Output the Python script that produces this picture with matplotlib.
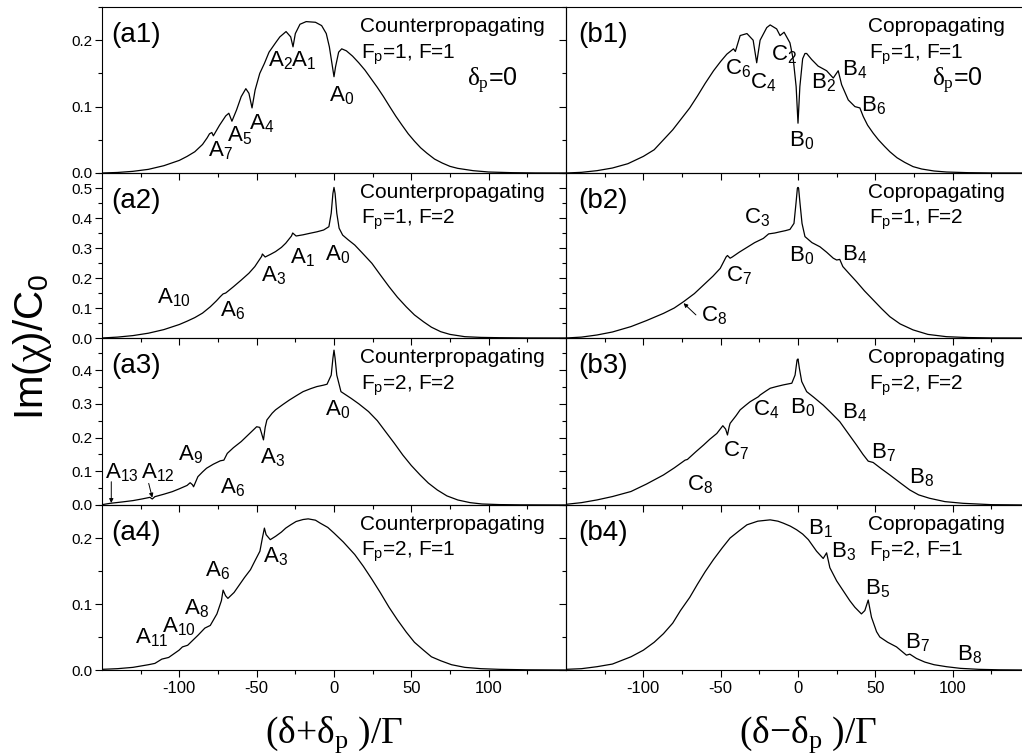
import matplotlib
matplotlib.use('Agg')
import matplotlib.pyplot as plt
from matplotlib.ticker import MultipleLocator, FixedLocator, FormatStrFormatter

plt.rcParams['font.family'] = ['Liberation Sans', 'DejaVu Sans']
plt.rcParams['mathtext.fontset'] = 'custom'
plt.rcParams['mathtext.rm'] = 'Liberation Serif'
plt.rcParams['mathtext.it'] = 'Liberation Serif:italic'
plt.rcParams['mathtext.bf'] = 'Liberation Serif:bold'
plt.rcParams['mathtext.sf'] = 'Liberation Sans'
plt.rcParams['axes.unicode_minus'] = False

# ---------------- data ----------------
a1_x = [-150, -140, -130, -120, -110, -100, -95, -90, -85, -82, -80.5, -79, -78, -74, -70, -68, -66, -63,
        -60, -57, -55, -53, -51, -48, -45, -42, -39, -37.5, -35, -31, -28, -26.5, -25, -22, -18, -12, -8,
        -5, -3, -1, 0, 1, 3, 5, 8, 12, 16, 20, 24, 28, 32, 36, 40, 44, 48, 52, 56, 60, 65, 70, 75, 80, 90,
        100, 115, 130, 150]
a1_y = [0.0, 0.0008, 0.0025, 0.0055, 0.011, 0.019, 0.025, 0.032, 0.043, 0.053, 0.059, 0.061, 0.056, 0.072,
        0.086, 0.09, 0.078, 0.095, 0.115, 0.127, 0.12, 0.098, 0.125, 0.15, 0.165, 0.182, 0.192, 0.197,
        0.205, 0.213, 0.205, 0.19, 0.21, 0.224, 0.228, 0.227, 0.222, 0.21, 0.19, 0.16, 0.145, 0.16, 0.182,
        0.187, 0.184, 0.176, 0.166, 0.155, 0.142, 0.129, 0.115, 0.1, 0.0854, 0.072, 0.059, 0.048, 0.038,
        0.03, 0.021, 0.015, 0.01, 0.007, 0.0035, 0.0015, 0.0005, 0.0001, 0.0]

b1_x = [-150, -140, -130, -120, -110, -100, -93, -87, -81, -76, -70, -65, -60, -54.6, -50, -46, -41.7,
        -40.5, -37.4, -33, -29, -26.7, -24.5, -20.2, -18, -13.8, -11.6, -9, -5.2, -3, -1.2, 0, 1.2, 3,
        4.5, 5.6, 8.8, 13, 18.5, 22.8, 26, 28.2, 32.5, 36.8, 40, 42.2, 45, 48.6, 52, 56, 59.4, 64, 69,
        74.4, 80, 88, 96, 110, 125, 150]
b1_y = [0.0, 0.001, 0.0035, 0.0075, 0.014, 0.025, 0.035, 0.05, 0.065, 0.08, 0.098, 0.116, 0.135, 0.154,
        0.168, 0.179, 0.187, 0.183, 0.207, 0.21, 0.2, 0.166, 0.2, 0.219, 0.223, 0.217, 0.207, 0.212, 0.196,
        0.17, 0.13, 0.075, 0.13, 0.172, 0.18, 0.18, 0.171, 0.161, 0.154, 0.143, 0.154, 0.133, 0.11, 0.1,
        0.098, 0.085, 0.072, 0.06, 0.05, 0.04, 0.032, 0.023, 0.016, 0.0096, 0.006, 0.003, 0.0015, 0.0005,
        0.0001, 0.0]

a2_x = [-150, -140, -130, -120, -110, -100, -95, -90, -85, -80, -76, -73.5, -71.7, -70, -65, -60, -55,
        -51.2, -46.8, -46.3, -44.5, -41, -37.8, -34, -31.2, -27.5, -26.7, -24.5, -20, -15.6, -11, -6.7,
        -3.3, -1.8, -0.7, 0, 0.7, 1.8, 3.3, 5.6, 9, 13.4, 18, 24.5, 30, 35.6, 41, 46.7, 52, 57.9, 63, 69,
        75, 84.6, 95, 107, 125, 150]
a2_y = [0.0, 0.003, 0.008, 0.016, 0.028, 0.045, 0.056, 0.068, 0.083, 0.104, 0.124, 0.138, 0.147, 0.15,
        0.171, 0.193, 0.216, 0.238, 0.272, 0.28, 0.27, 0.279, 0.288, 0.302, 0.316, 0.34, 0.35, 0.34, 0.344,
        0.349, 0.354, 0.36, 0.371, 0.416, 0.482, 0.502, 0.482, 0.416, 0.366, 0.343, 0.328, 0.31, 0.285,
        0.249, 0.21, 0.171, 0.136, 0.104, 0.077, 0.054, 0.036, 0.021, 0.012, 0.0044, 0.002, 0.001, 0.0002,
        0.0]

b2_x = [-150, -140, -130, -120, -108, -98, -87, -80, -74, -67, -61, -55, -50.3, -46.5, -45.6, -43.9,
        -42.5, -38, -33, -28, -22.4, -19, -15, -11.6, -8, -5.2, -2.6, -1.3, -0.4, 0, 0.4, 1.3, 2.6, 4.5,
        9, 14.2, 18.5, 22.8, 25, 27, 29, 33, 37.8, 43, 48.6, 54, 59.4, 66, 74.4, 84, 96, 110, 125, 150]
b2_y = [0.0, 0.003, 0.01, 0.02, 0.038, 0.058, 0.082, 0.1, 0.121, 0.148, 0.177, 0.206, 0.232, 0.27,
        0.275, 0.266, 0.27, 0.286, 0.302, 0.318, 0.332, 0.347, 0.35, 0.354, 0.358, 0.362, 0.382, 0.449,
        0.499, 0.502, 0.499, 0.449, 0.382, 0.338, 0.318, 0.304, 0.286, 0.266, 0.26, 0.262, 0.238, 0.215,
        0.188, 0.157, 0.127, 0.098, 0.071, 0.047, 0.027, 0.012, 0.0044, 0.0015, 0.0003, 0.0]

a3_x = [-150, -144.7, -137, -130, -124, -119, -117.5, -115.8, -110, -104.6, -100, -95, -93, -91.5, -90.8,
        -88, -85, -82.4, -78, -73.5, -71.2, -69, -65, -60, -55, -50, -48, -47, -45.6, -44.5, -43.4, -40,
        -37.8, -33, -28.9, -24, -20, -15, -11.1, -7, -4.5, -1.8, -0.7, 0, 0.7, 1.8, 4.5, 11.1, 16, 22.3,
        28, 33.4, 39, 44.5, 50, 55.7, 61, 66.8, 73, 80.1, 88, 95.7, 107, 120, 150]
a3_y = [0.001, 0.005, 0.009, 0.013, 0.018, 0.0227, 0.0178, 0.0247, 0.032, 0.0395, 0.048, 0.058, 0.066,
        0.06, 0.054, 0.084, 0.098, 0.109, 0.121, 0.131, 0.133, 0.153, 0.17, 0.188, 0.21, 0.232, 0.23, 0.215,
        0.193, 0.23, 0.252, 0.272, 0.282, 0.298, 0.311, 0.325, 0.336, 0.345, 0.351, 0.355, 0.358, 0.385,
        0.435, 0.459, 0.435, 0.385, 0.336, 0.316, 0.3, 0.277, 0.25, 0.217, 0.183, 0.148, 0.117, 0.089,
        0.065, 0.0445, 0.027, 0.0148, 0.007, 0.003, 0.0012, 0.0005, 0.0]

b3_x = [-150, -140, -130, -120, -108, -98, -87, -80, -73, -71.5, -70.8, -66, -61, -57, -52.5, -48.6, -46.8,
        -45.6, -44.5, -43.9, -40, -37.4, -34, -31, -25.6, -24.5, -21, -18, -14, -9.5, -4, -1.9, -0.6, 0,
        0.9, 2.4, 5.6, 10, 16.3, 21, 27, 32, 37.8, 42, 45.4, 48.6, 54, 59.4, 66, 72.3, 78, 85, 95, 106.7,
        125, 150]
b3_y = [0.002, 0.007, 0.015, 0.025, 0.04, 0.062, 0.089, 0.11, 0.133, 0.135, 0.138, 0.158, 0.178, 0.195,
        0.212, 0.235, 0.225, 0.2075, 0.232, 0.242, 0.265, 0.282, 0.295, 0.306, 0.321, 0.326, 0.337, 0.346,
        0.351, 0.356, 0.361, 0.385, 0.43, 0.433, 0.405, 0.366, 0.336, 0.32, 0.296, 0.275, 0.247, 0.215,
        0.178, 0.15, 0.13, 0.126, 0.107, 0.089, 0.066, 0.0445, 0.03, 0.02, 0.01, 0.005, 0.001, 0.0]

a4_x = [-150, -140, -130, -120, -115.8, -111.3, -106.9, -100.2, -98, -94.6, -88, -83.5, -80, -75.7, -72.8,
        -71.7, -70.1, -68.6, -64.6, -57.9, -54, -51.2, -47.9, -46.3, -45, -43.9, -41.2, -37.8, -34, -31.2,
        -28, -24.5, -20, -16.7, -12, -8.9, -4, 0, 6, 13.4, 19, 24.5, 30, 35.6, 41, 46.7, 52, 57.9, 63, 69,
        76, 84.6, 95, 107, 125, 150]
a4_y = [0.001, 0.002, 0.004, 0.008, 0.01, 0.0165, 0.019, 0.03, 0.035, 0.0375, 0.0525, 0.0635, 0.0675,
        0.085, 0.105, 0.121, 0.1125, 0.1085, 0.1175, 0.14, 0.152, 0.165, 0.18, 0.2, 0.215, 0.205, 0.1975,
        0.2025, 0.209, 0.215, 0.22, 0.225, 0.228, 0.229, 0.227, 0.2225, 0.216, 0.2075, 0.194, 0.175, 0.157,
        0.1375, 0.117, 0.095, 0.076, 0.0575, 0.042, 0.03, 0.02, 0.014, 0.008, 0.004, 0.002, 0.001, 0.0003,
        0.0]

b4_x = [-150, -140, -130, -120, -108, -100, -93, -87, -81, -76, -70, -65, -60, -54.6, -49, -43.9, -38, -33,
        -26, -18, -13, -9.5, -5, -0.9, 3, 6.7, 12, 16.3, 18.5, 20.6, 25, 33.5, 36.8, 41, 43.2, 45.4, 47.5,
        50.8, 52.9, 58, 63.7, 70.1, 72.3, 76.6, 82, 88, 96, 105, 117, 130, 150]
b4_y = [0.001, 0.002, 0.005, 0.009, 0.02, 0.03, 0.042, 0.055, 0.071, 0.09, 0.11, 0.13, 0.149, 0.1675,
        0.185, 0.2, 0.211, 0.22, 0.2255, 0.2275, 0.2255, 0.2225, 0.218, 0.2125, 0.206, 0.1975, 0.18, 0.169,
        0.1775, 0.155, 0.135, 0.105, 0.095, 0.085, 0.09, 0.106, 0.08, 0.058, 0.05, 0.042, 0.035, 0.0225,
        0.024, 0.0175, 0.012, 0.008, 0.005, 0.0025, 0.001, 0.0003, 0.0]

curves = {'a1': (a1_x, a1_y), 'b1': (b1_x, b1_y), 'a2': (a2_x, a2_y), 'b2': (b2_x, b2_y),
          'a3': (a3_x, a3_y), 'b3': (b3_x, b3_y), 'a4': (a4_x, a4_y), 'b4': (b4_x, b4_y)}

row_ylim = [0.25, 0.55, 0.495, 0.25]
row_F = ['F=1', 'F=2', 'F=2', 'F=1']
row_Fp = ['1', '1', '2', '2']
x_major = [-100, -50, 0, 50, 100]
x_minor = [-125, -75, -25, 25, 75, 125]

# resonance labels: (letter, index, x, y)
peak_labels = {
    'a1': [('A', '7', -81.3, 0.0247), ('A', '5', -69.3, 0.0475), ('A', '4', -55.2, 0.065),
           ('A', '2', -42.7, 0.161), ('A', '1', -27.8, 0.161), ('A', '0', -3.3, 0.108)],
    'b1': [('C', '6', -47.1, 0.1485), ('C', '4', -31.0, 0.127), ('C', '2', -17.6, 0.169),
           ('B', '0', -5.6, 0.04), ('B', '2', 8.2, 0.127), ('B', '4', 28.2, 0.147), ('B', '6', 40.6, 0.093)],
    'a2': [('A', '10', -114.6, 0.1156), ('A', '6', -73.5, 0.071), ('A', '3', -47.4, 0.188),
           ('A', '1', -28.3, 0.249), ('A', '0', -5.6, 0.26)],
    'b2': [('C', '3', -34.6, 0.382), ('C', '7', -46.5, 0.188), ('C', '8', -62.8, 0.054),
           ('B', '0', -5.6, 0.254), ('B', '4', 28.2, 0.26)],
    'a3': [('A', '13', -148.0, 0.079), ('A', '12', -124.7, 0.079), ('A', '9', -100.6, 0.133),
           ('A', '6', -73.5, 0.0346), ('A', '3', -47.9, 0.1235), ('A', '0', -5.6, 0.267)],
    'b3': [('C', '8', -71.8, 0.0445), ('C', '7', -48.2, 0.143), ('C', '4', -28.8, 0.267),
           ('B', '0', -5.2, 0.272), ('B', '4', 28.2, 0.257), ('B', '7', 46.9, 0.138), ('B', '8', 71.8, 0.064)],
    'a4': [('A', '11', -128.5, 0.04), ('A', '10', -111.0, 0.0575), ('A', '8', -96.8, 0.085),
           ('A', '6', -83.3, 0.1425), ('A', '3', -46.1, 0.1625)],
    'b4': [('B', '1', 6.7, 0.205), ('B', '3', 21.5, 0.17), ('B', '5', 43.2, 0.115),
           ('B', '7', 69.0, 0.0325), ('B', '8', 103.0, 0.015)],
}
# arrows: (x_from, y_from, x_to, y_to)
arrows = {
    'a3': [(-144.0, 0.069, -144.0, 0.006), (-119.8, 0.064, -117.5, 0.022)],
    'b2': [(-66.0, 0.077, -74.0, 0.116)],
}

# ---------------- figure layout ----------------
W, H = 1022, 755
fig = plt.figure(figsize=(W / 100, H / 100), dpi=100)
rows_px = [(7, 173), (173, 338), (338, 505), (505, 670)]
cols_px = [(102, 566), (566, 1030)]

for r, (top, bot) in enumerate(rows_px):
    for c, (x0, x1) in enumerate(cols_px):
        key = ('a' if c == 0 else 'b') + str(r + 1)
        ax = fig.add_axes([x0 / W, 1 - bot / H, (x1 - x0) / W, (bot - top) / H])
        ax.patch.set_facecolor('none')
        xs, ys = curves[key]
        ax.plot(xs, ys, color='black', lw=0.9)
        ax.set_xlim(-150, 150)
        ax.set_ylim(0, row_ylim[r])
        ax.xaxis.set_major_locator(FixedLocator(x_major))
        ax.xaxis.set_minor_locator(FixedLocator(x_minor))
        ax.yaxis.set_major_locator(MultipleLocator(0.1))
        ax.yaxis.set_minor_locator(MultipleLocator(0.05))
        ax.yaxis.set_major_formatter(FormatStrFormatter('%.1f'))
        ax.tick_params(which='major', direction='out', length=5, width=0.8, labelsize=11, pad=2)
        ax.tick_params(which='minor', direction='out', length=3, width=0.8)
        ax.tick_params(axis='x', which='major', pad=3, labelsize=12)
        ax.tick_params(labelbottom=(r == 3), labelleft=(c == 0))
        for s in ax.spines.values():
            s.set_linewidth(0.8)

        ax.text(0.02 if c == 0 else 0.026, 0.83, '(%s)' % key, transform=ax.transAxes,
                fontsize=20, va='center', ha='left')
        tx = 0.556 if c == 0 else 0.65
        ax.text(tx, 0.85, 'Counterpropagating' if c == 0 else 'Copropagating',
                transform=ax.transAxes, fontsize=15, va='baseline', ha='left')
        ax.text(tx + 0.002, 0.69, r'$\mathsf{F_p}$=%s, %s' % (row_Fp[r], row_F[r]),
                transform=ax.transAxes, fontsize=15, va='baseline', ha='left')
        if r == 0:
            ax.text(0.786 if c == 0 else 0.789, 0.52, r'$\mathrm{\delta_p}$=0',
                    transform=ax.transAxes, fontsize=18, va='baseline', ha='left')
        for letter, idx, lx, ly in peak_labels[key]:
            ax.text(lx, ly, r'$\mathsf{%s_{%s}}$' % (letter, idx), fontsize=16,
                    va='baseline', ha='left')
        for (xa, ya, xb, yb) in arrows.get(key, []):
            ax.annotate('', xy=(xb, yb), xytext=(xa, ya),
                        arrowprops=dict(arrowstyle='-|>', lw=0.7, color='black',
                                        mutation_scale=6, shrinkA=0, shrinkB=0))

fig.text(32 / W, 1 - 347 / H, r'Im($\mathrm{\chi}$)/C$_\mathsf{0}$', rotation=90,
         fontsize=29, ha='center', va='center')
serif = ['Liberation Serif', 'DejaVu Serif']
fig.text(334 / W, 1 - 743 / H, '(δ+δ$_\\mathrm{p}$ )/Γ', fontsize=27, family=serif,
         ha='center', va='baseline')
fig.text(808 / W, 1 - 743 / H, '(δ\u2212δ$_\\mathrm{p}$ )/Γ', fontsize=27, family=serif,
         ha='center', va='baseline')

fig.savefig('out.png', dpi=100)
